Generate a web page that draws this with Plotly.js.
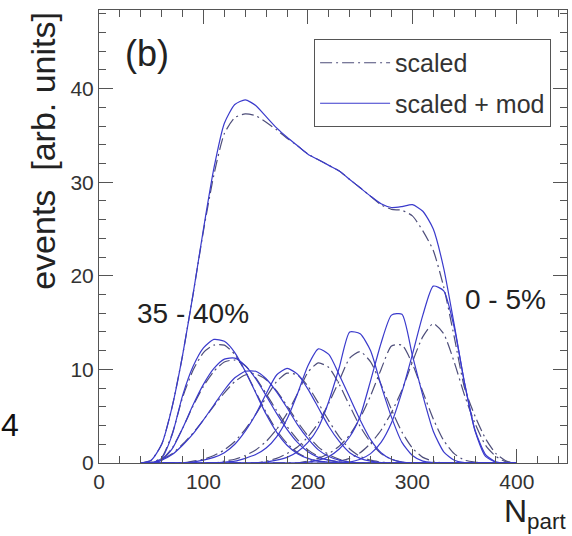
<!DOCTYPE html>
<html>
<head>
<meta charset="utf-8">
<script src="https://cdn.plot.ly/plotly-3.0.1.min.js"></script>
<style>html,body{margin:0;padding:0;background:#fff;}#chart{width:572px;height:536px;}</style>
</head>
<body>
<div id="chart"></div>
<script>
// N_part grid (shared by all curves)
const nPart = [40,50,60,70,80,90,100,110,120,130,140,150,160,170,180,190,200,210,220,230,240,250,260,270,280,290,300,310,320,330,340,350,360,370,380,390,400];

// "scaled + mod" (solid) centrality-bin distributions
const mod_0_5   = [0,0,0,0,0,0,0,0,0,0,0,0,0,0,0,0,0,0,0,0,0.1,0.4,1.0,2.2,4.3,7.6,11.6,15.8,18.9,18.4,14.5,8.5,3.5,0.9,0.1,0,0];
const mod_5_10  = [0,0,0,0,0,0,0,0,0,0,0,0,0,0,0,0,0.1,0.3,0.7,1.5,2.8,5.0,8.8,12.8,15.8,15.9,11.5,7.2,3.4,1.2,0.3,0.05,0,0,0,0,0];
const mod_10_15 = [0,0,0,0,0,0,0,0,0,0,0,0,0.1,0.3,0.6,1.2,2.2,3.8,6.6,10.2,14.0,13.8,12.0,8.3,4.9,2.2,0.8,0.2,0.05,0,0,0,0,0,0,0,0];
const mod_15_20 = [0,0,0,0,0,0,0,0,0.1,0.2,0.5,0.9,1.6,2.8,4.7,7.4,10.4,12.2,11.6,9.4,7.0,4.6,2.5,1.1,0.4,0.1,0,0,0,0,0,0,0,0,0,0,0];
const mod_20_25 = [0,0,0,0,0,0.1,0.3,0.6,1.1,2.0,3.4,5.2,7.4,9.4,10.1,9.5,7.9,5.9,3.9,2.3,1.1,0.5,0.2,0.05,0,0,0,0,0,0,0,0,0,0,0,0,0];
const mod_25_30 = [0,0.05,0.3,0.9,1.9,3.1,4.6,6.2,7.8,9.1,9.8,9.8,9.0,7.6,5.9,4.1,2.6,1.4,0.7,0.3,0.1,0,0,0,0,0,0,0,0,0,0,0,0,0,0,0,0];
const mod_30_35 = [0,0,0.3,1.5,3.7,6.2,8.4,10.1,11.1,11.2,10.4,9.0,7.2,5.3,3.6,2.2,1.2,0.6,0.3,0.1,0,0,0,0,0,0,0,0,0,0,0,0,0,0,0,0,0];
const mod_35_40 = [0,0,0.5,3.0,7.2,10.3,12.3,13.2,13.0,11.8,9.8,7.5,5.2,3.3,1.9,1.0,0.5,0.2,0.1,0,0,0,0,0,0,0,0,0,0,0,0,0,0,0,0,0,0];
const mod_total = [0,0.3,2.0,6.0,11.5,18.0,25.0,31.5,36.3,38.3,38.8,38.2,37.0,35.8,34.8,33.9,33.0,32.4,31.8,31.2,30.3,29.4,28.5,27.7,27.3,27.4,27.6,26.9,25.0,20.8,14.8,8.5,3.4,0.7,0.1,0,0];

// "scaled" (dash-dot) centrality-bin distributions
const scl_0_5   = [0,0,0,0,0,0,0,0,0,0,0,0,0,0,0,0,0,0,0,0.2,0.5,1.1,2.1,3.5,5.4,7.8,10.8,13.5,14.9,13.8,10.8,7.2,4.2,1.9,0.7,0.1,0];
const scl_5_10  = [0,0,0,0,0,0,0,0,0,0,0,0,0,0,0,0,0.2,0.5,1.0,1.8,3.0,4.8,7.2,10.0,12.5,12.6,10.6,7.6,4.7,2.4,1.0,0.3,0.1,0,0,0,0];
const scl_10_15 = [0,0,0,0,0,0,0,0,0,0,0,0,0.2,0.5,1.0,1.7,2.8,4.3,6.4,8.8,11.2,11.9,10.8,8.4,5.7,3.3,1.6,0.6,0.2,0,0,0,0,0,0,0,0];
const scl_15_20 = [0,0,0,0,0,0,0,0,0.2,0.4,0.8,1.4,2.3,3.6,5.3,7.4,9.7,10.7,10.2,8.4,6.1,3.9,2.2,1.0,0.4,0.1,0,0,0,0,0,0,0,0,0,0,0];
const scl_20_25 = [0,0,0,0,0,0.2,0.4,0.8,1.4,2.3,3.6,5.2,7.0,8.7,9.6,9.4,8.2,6.4,4.5,2.8,1.5,0.7,0.3,0.1,0,0,0,0,0,0,0,0,0,0,0,0,0];
const scl_25_30 = [0,0.1,0.4,1.0,2.0,3.2,4.6,6.1,7.5,8.7,9.4,9.5,8.9,7.7,6.1,4.4,2.9,1.7,0.9,0.4,0.1,0,0,0,0,0,0,0,0,0,0,0,0,0,0,0,0];
const scl_30_35 = [0,0,0.4,1.6,3.7,6.1,8.2,9.8,10.8,11.0,10.4,9.1,7.4,5.6,3.9,2.5,1.4,0.7,0.3,0.1,0,0,0,0,0,0,0,0,0,0,0,0,0,0,0,0,0];
const scl_35_40 = [0,0,0.6,3.1,7.0,9.9,11.8,12.6,12.6,11.6,9.8,7.6,5.4,3.5,2.1,1.1,0.5,0.2,0.1,0,0,0,0,0,0,0,0,0,0,0,0,0,0,0,0,0,0];
const scl_total = [0,0.3,2.0,6.0,11.5,18.0,24.8,30.8,35.2,36.9,37.3,37.1,36.4,35.6,34.7,33.9,33.0,32.4,31.8,31.2,30.3,29.4,28.5,27.6,27.1,27.0,26.4,24.8,22.7,18.8,13.5,8.0,5.0,2.6,1.0,0.2,0];

const scaledSeries = [scl_total, scl_0_5, scl_5_10, scl_10_15, scl_15_20, scl_20_25, scl_25_30, scl_30_35, scl_35_40];
const modSeries    = [mod_total, mod_0_5, mod_5_10, mod_10_15, mod_15_20, mod_20_25, mod_25_30, mod_30_35, mod_35_40];
const legendNames  = ["scaled", "scaled + mod"];

const FONT = "Liberation Sans, Arial, Helvetica, sans-serif";
const solidColor = "#3a3acc";
const dashColor  = "#4e4e7a";

const traces = [];
scaledSeries.forEach((ys, i) => {
  traces.push({
    x: nPart, y: ys, type: "scatter", mode: "lines",
    name: legendNames[0], showlegend: i === 0, legendgroup: "s",
    line: {color: dashColor, width: 1.2, dash: "12px,4px,2px,4px", shape: "spline", smoothing: 0.6},
    hoverinfo: "skip"
  });
});
modSeries.forEach((ys, i) => {
  traces.push({
    x: nPart, y: ys, type: "scatter", mode: "lines",
    name: legendNames[1], showlegend: i === 0, legendgroup: "m",
    line: {color: solidColor, width: 1.2, shape: "spline", smoothing: 0.6},
    hoverinfo: "skip"
  });
});

const axisCommon = {
  showgrid: false, zeroline: false, showline: true, linecolor: "#555", linewidth: 1,
  mirror: "allticks", ticks: "inside", ticklen: 14, tickwidth: 1, tickcolor: "#555",
  tickfont: {family: FONT, size: 21, color: "#333"}
};

const layout = {
  width: 572, height: 536,
  margin: {l: 99, r: 5, t: 10, b: 73, pad: 0},
  paper_bgcolor: "#fff", plot_bgcolor: "#fff",
  font: {family: FONT, color: "#222"},
  xaxis: Object.assign({}, axisCommon, {
    range: [0, 448], tick0: 0, dtick: 100,
    minor: {dtick: 20, ticklen: 7, tickcolor: "#555", ticks: "inside"}
  }),
  yaxis: Object.assign({}, axisCommon, {
    range: [0, 48.4], tick0: 0, dtick: 10,
    minor: {dtick: 2, ticklen: 7, tickcolor: "#555", ticks: "inside"}
  }),
  showlegend: true,
  legend: {
    x: 0.966, y: 0.936, xanchor: "right", yanchor: "top",
    bordercolor: "#555", borderwidth: 1, bgcolor: "#fff",
    font: {family: FONT, size: 25, color: "#333"},
    itemwidth: 70, tracegroupgap: 5
  },
  annotations: [
    {text: "events  [arb. units]", xref: "paper", yref: "paper", x: -0.12, y: 1.0,
     xanchor: "center", yanchor: "top", textangle: -90, showarrow: false,
     font: {family: FONT, size: 34, color: "#222"}},
    {text: "N<sub>part</sub>", xref: "paper", yref: "paper", x: 1.002, y: -0.161,
     xanchor: "right", yanchor: "bottom", showarrow: false,
     font: {family: FONT, size: 32, color: "#222"}},
    {text: "(b)", xref: "paper", yref: "paper", x: 0.051, y: 0.903,
     xanchor: "left", yanchor: "middle", showarrow: false,
     font: {family: FONT, size: 36, color: "#222"}},
    {text: "35 - 40%", xref: "paper", yref: "paper", x: 0.077, y: 0.331,
     xanchor: "left", yanchor: "middle", showarrow: false,
     font: {family: FONT, size: 28, color: "#222"}},
    {text: "0 - 5%", xref: "paper", yref: "paper", x: 0.778, y: 0.360,
     xanchor: "left", yanchor: "middle", showarrow: false,
     font: {family: FONT, size: 28, color: "#222"}},
    {text: "4", xref: "paper", yref: "paper", x: -0.190, y: 0.084,
     xanchor: "center", yanchor: "middle", showarrow: false,
     font: {family: FONT, size: 32, color: "#111"}}
  ]
};

Plotly.newPlot("chart", traces, layout, {staticPlot: true, displayModeBar: false});
</script>
</body>
</html>
